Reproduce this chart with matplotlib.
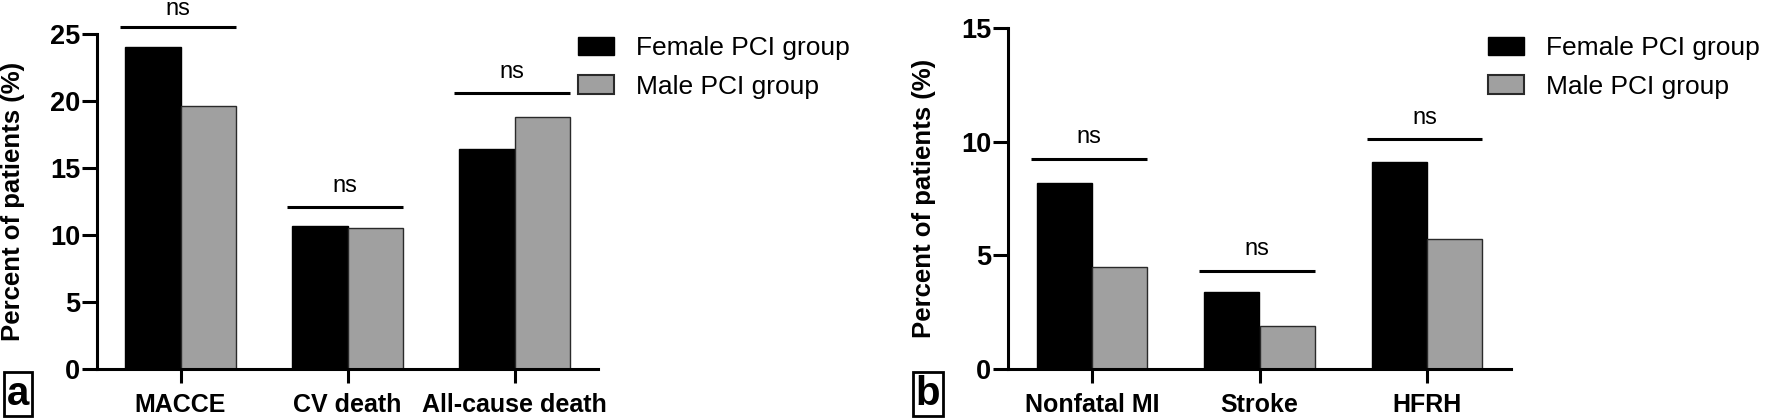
import numpy as np
import matplotlib
matplotlib.use("Agg")
import matplotlib.pyplot as plt
from matplotlib.patches import Patch

plt.rcParams['font.family'] = ['Liberation Sans', 'DejaVu Sans']

# Data
cats_a = ['MACCE', 'CV death', 'All-cause death']
female_a = [24.0, 10.7, 16.4]
male_a = [19.6, 10.5, 18.8]
ns_a = [25.5, 12.1, 20.6]

cats_b = ['Nonfatal MI', 'Stroke', 'HFRH']
female_b = [8.2, 3.4, 9.1]
male_b = [4.5, 1.9, 5.7]
ns_b = [9.25, 4.33, 10.1]

series_labels = ['Female PCI group', 'Male PCI group']
ylabel = 'Percent of patients (%)'

GRAY = '#a0a0a0'
W = 0.33
LW = 2.2

fig = plt.figure(figsize=(17.7, 4.19), dpi=100)
W_PX, H_PX = 1770, 419


def px_axes(left, right, top, bottom):
    return fig.add_axes([left / W_PX, 1 - bottom / H_PX,
                         (right - left) / W_PX, (bottom - top) / H_PX])


def draw_panel(ax, cats, fem, mal, ns, ymax, letter, letter_xy, legend_xy):
    x = np.arange(len(cats))
    ax.bar(x - W, fem, width=W, align='edge', color='black',
           edgecolor='black', linewidth=1)
    ax.bar(x, mal, width=W, align='edge', color=GRAY,
           edgecolor='#2a2a2a', linewidth=1)
    for xi, h in zip(x, ns):
        ax.plot([xi - W - 0.03, xi + W], [h, h], color='black', lw=LW,
                clip_on=False, solid_capstyle='butt')
        # the top label sits right at the figure edge; keep it inside
        dy = 8.5 if h > ymax else 11
        ax.annotate('ns', (xi - 0.015, h), xytext=(0, dy),
                    textcoords='offset points', ha='center', va='baseline',
                    fontsize=17, annotation_clip=False)
    ax.set_xlim(-0.5, len(cats) - 0.5)
    ax.set_ylim(0, ymax)
    ax.set_yticks(np.arange(0, ymax + 1, 5))
    ax.set_xticks(x)
    ax.set_xticklabels(cats, fontweight='bold', fontsize=18)
    for lab in ax.get_yticklabels():
        lab.set_fontweight('bold')
        lab.set_fontsize(19.5)
    ax.tick_params(axis='y', length=11, width=LW, pad=1)
    ax.tick_params(axis='x', length=10, width=LW, pad=7)
    for s in ['top', 'right']:
        ax.spines[s].set_visible(False)
    for s in ['left', 'bottom']:
        ax.spines[s].set_linewidth(LW)
    ax.set_ylabel(ylabel, fontsize=18.5, fontweight='bold')
    ax.yaxis.set_label_coords(-0.143, 0.5)

    fig.text(letter_xy[0] / W_PX, 1 - letter_xy[1] / H_PX, letter,
             fontsize=29, fontweight='bold', ha='center', va='center',
             bbox=dict(boxstyle='square,pad=0.08', fc='white', ec='black',
                       lw=2))

    handles = [Patch(facecolor='black', edgecolor='black', lw=1),
               Patch(facecolor=GRAY, edgecolor='#2a2a2a', lw=1.5)]
    fig.legend(handles, series_labels, loc='upper left',
               bbox_to_anchor=(legend_xy[0] / W_PX, 1 - legend_xy[1] / H_PX),
               frameon=False, fontsize=19, handlelength=1.35,
               handleheight=0.7, handletextpad=0.85, labelspacing=0.55,
               borderpad=0, borderaxespad=0)


ax_a = px_axes(97, 598, 34, 369)
draw_panel(ax_a, cats_a, female_a, male_a, ns_a, 25, 'a', (18, 394), (578, 36))

ax_b = px_axes(1008, 1511, 28, 369)
draw_panel(ax_b, cats_b, female_b, male_b, ns_b, 15, 'b', (928, 394), (1488, 36))

fig.savefig('out.png', dpi=100)
